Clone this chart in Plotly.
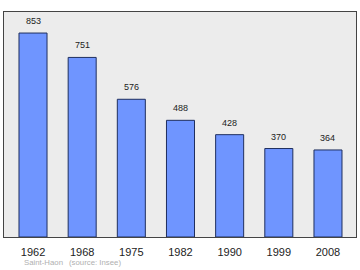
import plotly.graph_objects as go

years = ["1962", "1968", "1975", "1982", "1990", "1999", "2008"]
population = [853, 751, 576, 488, 428, 370, 364]
commune = "Saint-Haon"
source = "(source: Insee)"

fig = go.Figure()
fig.add_trace(go.Bar(
    x=years, y=population,
    marker=dict(color="#6f95ff", line=dict(color="#1f2f5f", width=1)),
    width=0.57,
    hoverinfo="skip",
))
for i, v in enumerate(population):
    fig.add_annotation(x=i, y=v, text=str(v), showarrow=False, yanchor="bottom",
                       yshift=5, font=dict(size=9, color="#222", family="Liberation Sans"))

fig.add_annotation(xref="paper", yref="paper", x=0.05, y=-0.115, xanchor="left", yanchor="middle",
                   text=commune, showarrow=False, font=dict(size=7.8, color="#b0b0b0", family="Liberation Sans"))
fig.add_annotation(xref="paper", yref="paper", x=0.18, y=-0.115, xanchor="left", yanchor="middle",
                   text=source, showarrow=False, font=dict(size=7.8, color="#b0b0b0", family="Liberation Sans"))

fig.update_layout(
    width=360, height=270,
    margin=dict(l=4, r=4, t=12, b=33),
    paper_bgcolor="white", plot_bgcolor="#ececec",
    showlegend=False,
    font=dict(family="Liberation Sans"),
    xaxis=dict(type="category", range=[-0.59, 6.57], showline=True, mirror=True, linecolor="#444",
               linewidth=1, ticks="", ticklabelstandoff=5,
               tickfont=dict(size=11, color="#222"), showgrid=False),
    yaxis=dict(range=[0, 941], showline=True, mirror=True, linecolor="#444", linewidth=1,
               showticklabels=False, showgrid=False, zeroline=False, ticks=""),
)
fig.write_html("out.html")
